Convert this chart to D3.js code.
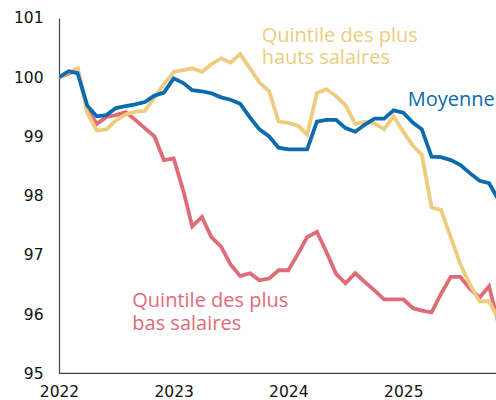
<!DOCTYPE html>
<html>
<head>
<meta charset="utf-8">
<script src="https://cdn.jsdelivr.net/npm/d3@7"></script>
<style>
  html, body { margin: 0; padding: 0; background: #fff; }
  svg { display: block; }
</style>
</head>
<body>
<svg id="chart" width="496" height="400"></svg>
<script>
// ---- Data (monthly index, Jan 2022 = 100) ----
const startMonth = "2022-01";
const yTicks = [95, 96, 97, 98, 99, 100, 101];
const xTicks = ["2022", "2023", "2024", "2025"];

const moyenne = [
  100.00, 100.10, 100.07, 99.52, 99.34, 99.36, 99.48, 99.51, 99.54, 99.58, 99.69, 99.74,
  99.98, 99.90, 99.78, 99.76, 99.73, 99.66, 99.62, 99.55, 99.32, 99.12, 99.00, 98.81,
  98.78, 98.78, 98.78, 99.25, 99.28, 99.28, 99.14, 99.08, 99.20, 99.30, 99.30, 99.44,
  99.40, 99.23, 99.12, 98.66, 98.65, 98.60, 98.52, 98.38, 98.25, 98.21, 97.92
];
const hautsSalaires = [
  100.00, 100.08, 100.15, 99.40, 99.10, 99.12, 99.27, 99.37, 99.42, 99.43, 99.66, 99.88,
  100.09, 100.12, 100.15, 100.09, 100.22, 100.32, 100.25, 100.39, 100.15, 99.91, 99.76, 99.25,
  99.23, 99.18, 99.03, 99.73, 99.80, 99.68, 99.53, 99.21, 99.25, 99.22, 99.12, 99.34,
  99.08, 98.84, 98.69, 97.80, 97.76, 97.30, 96.85, 96.50, 96.21, 96.22, 95.90
];
const basSalaires = [
  100.00, 100.06, 100.14, 99.46, 99.21, 99.33, 99.36, 99.41, 99.28, 99.14, 99.00, 98.60,
  98.63, 98.08, 97.48, 97.64, 97.30, 97.14, 96.84, 96.64, 96.69, 96.57, 96.60, 96.74,
  96.74, 97.02, 97.30, 97.39, 97.05, 96.68, 96.52, 96.69, 96.54, 96.40, 96.25, 96.25,
  96.25, 96.10, 96.06, 96.03, 96.34, 96.63, 96.63, 96.43, 96.28, 96.47, 95.82
];

const seriesNames = ["basSalaires", "hautsSalaires", "moyenne"];
const seriesValues = [basSalaires, hautsSalaires, moyenne];
const seriesColors = ["#DE6C78", "#EDCC80", "#0B6BAE"];
const labelLines = [
  ["Quintile des plus", "bas salaires"],
  ["Quintile des plus", "hauts salaires"],
  ["Moyenne"]
];

// ---- Layout ----
const W = 496, H = 400;
const plot = { left: 59, top: 18, right: 496, bottom: 373.3 };

const svg = d3.select("#chart");
const parseMonth = d3.timeParse("%Y-%m");
const t0 = parseMonth(startMonth);
const months = d3.range(moyenne.length).map(i => d3.timeMonth.offset(t0, i));

const x = d3.scaleTime()
  .domain([new Date(2022, 0, 1), new Date(2025, 0, 1)])
  .range([plot.left, 403.3]);
const y = d3.scaleLinear().domain([95, 101]).range([plot.bottom, plot.top]);

svg.append("defs").append("clipPath").attr("id", "clip")
  .append("rect")
  .attr("x", plot.left).attr("y", 0)
  .attr("width", plot.right - plot.left).attr("height", H);

// Axes
const yAxis = d3.axisLeft(y).tickValues(yTicks).tickSize(0).tickPadding(15.5)
  .tickFormat(d3.format("d"));
const gy = svg.append("g").attr("transform", `translate(${plot.left},0)`).call(yAxis);
gy.select(".domain").attr("stroke", "#444").attr("stroke-width", 1.2);
gy.selectAll("text").attr("font-family", "DejaVu Sans").attr("font-size", 15.5)
  .attr("fill", "#111");

const xAxis = d3.axisBottom(x)
  .tickValues(xTicks.map(s => new Date(+s, 0, 1)))
  .tickSize(0).tickPadding(13)
  .tickFormat(d3.timeFormat("%Y"));
const gx = svg.append("g").attr("transform", `translate(0,${plot.bottom})`).call(xAxis);
gx.select(".domain").attr("d", `M${plot.left},0H${plot.right}`)
  .attr("stroke", "#444").attr("stroke-width", 1.2);
gx.selectAll("text").attr("font-family", "DejaVu Sans").attr("font-size", 15.5)
  .attr("fill", "#111");

// Lines
const line = d3.line()
  .x((d, i) => x(months[i]))
  .y(d => y(d))
  .curve(d3.curveLinear);

const gLines = svg.append("g").attr("clip-path", "url(#clip)");
seriesValues.forEach((vals, k) => {
  gLines.append("path")
    .datum(vals)
    .attr("class", "line " + seriesNames[k])
    .attr("fill", "none")
    .attr("stroke", seriesColors[k])
    .attr("stroke-width", 3.8)
    .attr("stroke-linejoin", "miter")
    .attr("d", line);
});

// Labels
const labelPos = [
  { x: 132.3, y: 307, lh: 22.6 },
  { x: 261.7, y: 41.7, lh: 22.6 },
  { x: 407.7, y: 106, lh: 22.6 }
];
labelLines.forEach((lines, k) => {
  const t = svg.append("text")
    .attr("font-family", "Open Sans")
    .attr("font-size", 20)
    .attr("fill", seriesColors[k]);
  lines.forEach((s, j) => {
    t.append("tspan").attr("x", labelPos[k].x)
      .attr("y", labelPos[k].y + j * labelPos[k].lh).text(s);
  });
});
</script>
</body>
</html>
